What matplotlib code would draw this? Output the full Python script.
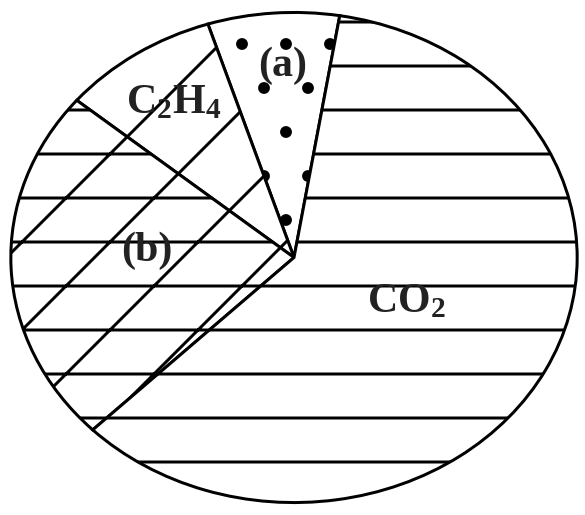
import matplotlib
matplotlib.use("Agg")
import matplotlib.pyplot as plt

# gas shares (percent)
labels = ["(a)", "C$_2$H$_4$", "(b)", "CO$_2$"]
shares = [7.5, 9.0, 23.5, 60.0]
hatches = [".", "/", "/-", "-"]
start = 80.7

# label anchors in pie units (left, baseline)
label_x = [-0.126, -0.594, -0.61, 0.259]
label_y = [0.741, 0.587, -0.016, -0.223]

DPI = 264  # big dpi => sparse hatching like the hand drawing
lw = 3 * 72 / DPI
plt.rcParams["hatch.linewidth"] = lw
plt.rcParams["hatch.color"] = "black"
plt.rcParams["mathtext.fontset"] = "custom"
plt.rcParams["mathtext.rm"] = "Liberation Serif:bold"
plt.rcParams["mathtext.default"] = "rm"

fig = plt.figure(figsize=(585 / DPI, 515 / DPI), dpi=DPI)
ax = fig.add_axes([8 / 585, 10 / 515, 572 / 585, 495 / 515])

wedges, _ = ax.pie(shares, startangle=start, counterclock=True,
                   colors=["white"] * 4,
                   wedgeprops=dict(edgecolor="black", linewidth=lw))
for w, h in zip(wedges, hatches):
    w.set_hatch(h)

ax.set_aspect("auto")
ax.set_xlim(-1.01, 1.01)
ax.set_ylim(-1.01, 1.01)
ax.axis("off")

for lab, x, y in zip(labels, label_x, label_y):
    ax.text(x, y, lab, ha="left", va="baseline", fontsize=42 * 72 / DPI,
            fontfamily="Liberation Serif", fontweight="bold", color="#222222")

fig.savefig("out.png", dpi=DPI)
